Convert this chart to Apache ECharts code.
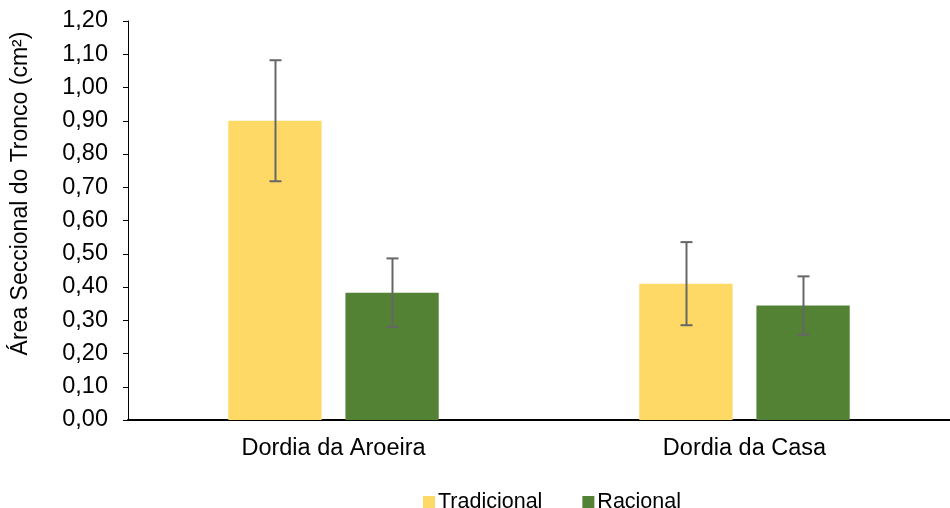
<!DOCTYPE html>
<html><head><meta charset="utf-8">
<script src="https://cdn.jsdelivr.net/npm/echarts@6/dist/echarts.min.js"></script>
<style>html,body{margin:0;padding:0;background:#fff}#c{width:950px;height:508px}</style>
</head><body><div id="c"></div>
<script>
const categories = ['Dordia da Aroeira', 'Dordia da Casa'];
const seriesNames = ['Tradicional', 'Racional'];
const tradicional = [0.90, 0.41];
const racional = [0.383, 0.344];
const tradicionalErr = [0.182, 0.125];
const racionalErr = [0.103, 0.088];
const colors = ['#FFD966', '#548235'];

const BAR_W = 0.227, GAP = 0.058;
function fmt(v){ return v.toFixed(2).replace('.', ','); }

function errSeries(vals, errs, sign){
  return {
    type: 'custom', silent: true, z: 10,
    data: vals.map((v,i)=>[i, v, errs[i]]),
    renderItem: function(params, api){
      const idx = api.value(0), v = api.value(1), e = api.value(2);
      const catW = api.size([1,0])[0];
      const off = sign * (BAR_W + GAP) / 2 * catW;
      const top = api.coord([idx, v + e]);
      const bot = api.coord([idx, v - e]);
      const x = Math.round(top[0] + off) + 0.5;
      const cap = 6;
      const st = {stroke: '#666666', lineWidth: 2};
      return {type: 'group', children: [
        {type:'line', shape:{x1:x,y1:top[1],x2:x,y2:bot[1]}, style:st},
        {type:'line', shape:{x1:x-cap,y1:top[1],x2:x+cap,y2:top[1]}, style:st},
        {type:'line', shape:{x1:x-cap,y1:bot[1],x2:x+cap,y2:bot[1]}, style:st}
      ]};
    }
  };
}

const chart = echarts.init(document.getElementById('c'), null, {renderer:'canvas'});
chart.setOption({
  animation: false,
  textStyle: {fontFamily: 'Liberation Sans, Arial, sans-serif'},
  grid: {left: 128, right: -8, top: 21, bottom: 88},
  legend: {
    data: seriesNames.map((n,i)=>({name:n, itemStyle:{color:colors[i]}})),
    left: 418, top: 486, itemWidth: 12, itemHeight: 12, itemGap: 40,
    icon: 'rect',
    textStyle: {fontSize: 21.5, color: '#000', padding:[0,0,0,-2]}
  },
  xAxis: {
    type: 'category', data: categories,
    axisLine: {lineStyle: {color: '#000', width: 2}},
    axisTick: {inside: true, length: 6, lineStyle:{color:'#000', width:1}},
    axisLabel: {fontSize: 23.5, color: '#000', margin: 17}
  },
  yAxis: {
    type: 'value', min: 0, max: 1.2, interval: 0.1,
    name: 'Área Seccional do Tronco (cm²)', nameLocation: 'middle', nameGap: 96,
    nameTextStyle: {fontSize: 23, color: '#000', padding: [0, 0, 0, 54]},
    axisLine: {show: true, lineStyle: {color: '#000', width: 1}},
    axisTick: {show: true, length: 5, lineStyle:{color:'#000'}},
    splitLine: {show: false},
    axisLabel: {fontSize: 23.5, color: '#000', margin: 20, formatter: fmt}
  },
  series: [
    {name: seriesNames[0], type: 'bar', data: tradicional, barWidth: (BAR_W*100)+'%', barGap: (GAP/BAR_W*100)+'%', itemStyle:{color: colors[0]}},
    {name: seriesNames[1], type: 'bar', data: racional, barWidth: (BAR_W*100)+'%', itemStyle:{color: colors[1]}},
    errSeries(tradicional, tradicionalErr, -1),
    errSeries(racional, racionalErr, 1)
  ]
});
</script></body></html>
